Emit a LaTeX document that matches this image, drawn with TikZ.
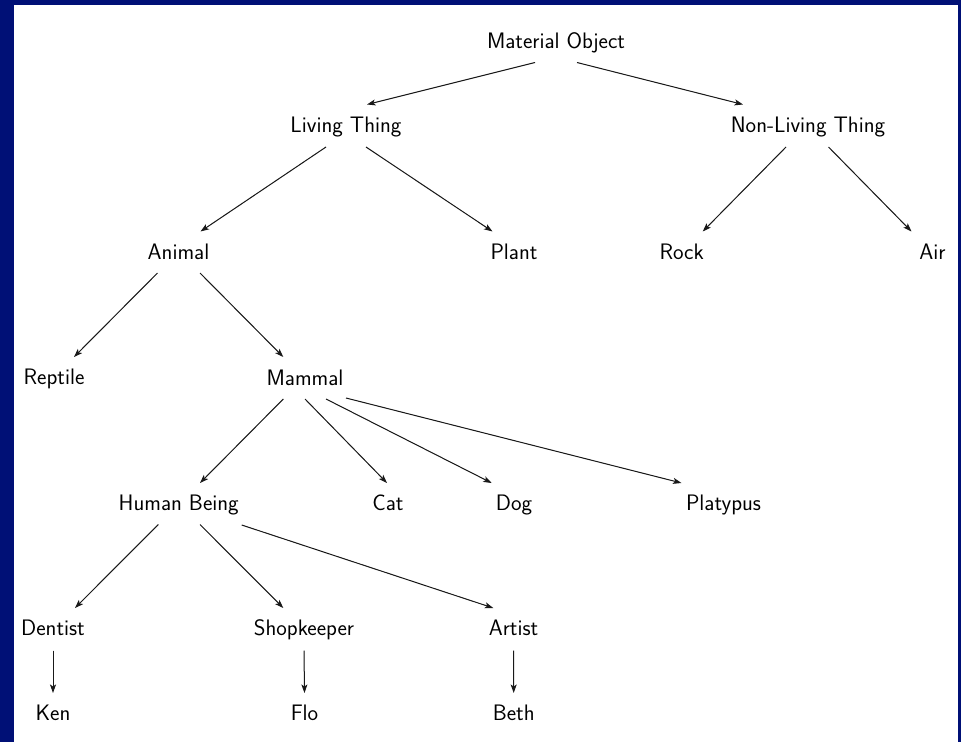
\documentclass[tikz,border=0pt]{standalone}
\usetikzlibrary{arrows.meta}
\definecolor{frame}{RGB}{0,16,118}
\begin{document}
\begin{tikzpicture}[x=1pt,y=-1pt,
  lbl/.style={anchor=base, inner sep=0pt, font=\fontsize{22.4}{26}\selectfont\sffamily},
  arr/.style={-{Stealth[length=8.5pt,width=6pt,inset=2pt]}, line width=1pt, draw=black!90, fill=black!90}]
\fill[frame] (0,0) rectangle (961,742);
\fill[white] (14,5) rectangle (958,742);
\useasboundingbox (0,0) rectangle (961,742);
% row 0
\node[lbl] (mo) at (556,48) {Material Object};
% row 1
\node[lbl] (lt) at (346,132) {Living Thing};
\node[lbl] (nlt) at (808,132) {Non-Living Thing};
% row 2
\node[lbl] (animal) at (178.5,259) {Animal};
\node[lbl] (plant) at (514,259) {Plant};
\node[lbl] (rock) at (681.7,259) {Rock};
\node[lbl] (air) at (932.5,259) {Air};
% row 3
\node[lbl] (reptile) at (54,384) {Reptile};
\node[lbl] (mammal) at (305,385) {Mammal};
% row 4
\node[lbl] (human) at (178.7,510) {Human Being};
\node[lbl] (cat) at (388,510) {Cat};
\node[lbl] (dog) at (514,510) {Dog};
\node[lbl] (platypus) at (723.5,510) {Platypus};
% row 5
\node[lbl] (dentist) at (53,635) {Dentist};
\node[lbl] (shop) at (304,635) {Shopkeeper};
\node[lbl] (artist) at (513.5,635) {Artist};
% row 6
\node[lbl] (ken) at (53,720) {Ken};
\node[lbl] (flo) at (304.5,720) {Flo};
\node[lbl] (beth) at (513.7,720) {Beth};
% edges
\draw[arr] ([shift={(-21,14.5)}]mo.base) -- ([shift={(21,-27.5)}]lt.base);
\draw[arr] ([shift={(21,14.5)}]mo.base) -- ([shift={(-65,-27.5)}]nlt.base);
\draw[arr] ([shift={(-20,15)}]lt.base) -- ([shift={(22,-27.5)}]animal.base);
\draw[arr] ([shift={(20,15)}]lt.base) -- ([shift={(-21.5,-27.5)}]plant.base);
\draw[arr] ([shift={(-22,15)}]nlt.base) -- ([shift={(21,-27.5)}]rock.base);
\draw[arr] ([shift={(20.5,15)}]nlt.base) -- ([shift={(-21,-27.5)}]air.base);
\draw[arr] ([shift={(-21,14)}]animal.base) -- ([shift={(20,-27)}]reptile.base);
\draw[arr] ([shift={(21.5,14)}]animal.base) -- ([shift={(-21.7,-28)}]mammal.base);
\draw[arr] ([shift={(-21.7,14)}]mammal.base) -- ([shift={(21.3,-27)}]human.base);
\draw[arr] ([shift={(0,14)}]mammal.base) -- ([shift={(-1,-27)}]cat.base);
\draw[arr] ([shift={(21,14)}]mammal.base) -- ([shift={(-22.3,-27)}]dog.base);
\draw[arr] ([shift={(41,13)}]mammal.base) -- ([shift={(-42,-27)}]platypus.base);
\draw[arr] ([shift={(-20.4,14.5)}]human.base) -- ([shift={(22,-27)}]dentist.base);
\draw[arr] ([shift={(21.3,14.5)}]human.base) -- ([shift={(-20.7,-27)}]shop.base);
\draw[arr] ([shift={(63,15)}]human.base) -- ([shift={(-20.2,-27)}]artist.base);
\draw[arr] ([shift={(0,15.5)}]dentist.base) -- ([shift={(0,-27)}]ken.base);
\draw[arr] ([shift={(0,15.5)}]shop.base) -- ([shift={(0,-27)}]flo.base);
\draw[arr] ([shift={(0,15.5)}]artist.base) -- ([shift={(0,-27)}]beth.base);
\end{tikzpicture}
\end{document}
